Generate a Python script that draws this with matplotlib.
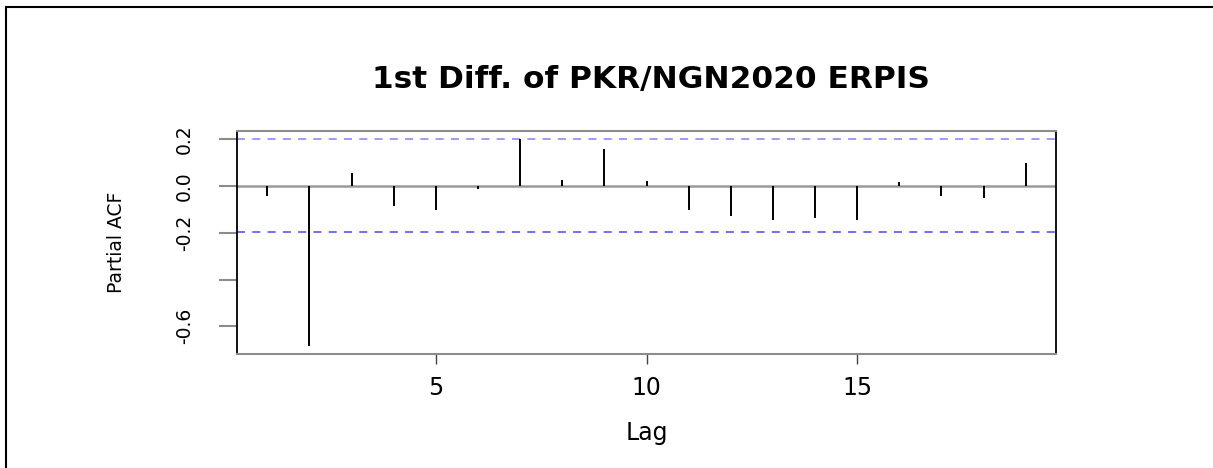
import numpy as np
import matplotlib
matplotlib.use("Agg")
import matplotlib.pyplot as plt
from matplotlib.lines import Line2D

# partial autocorrelations of the differenced series, lags 1..19
lags = list(range(1, 20))
pacf_vals = [-0.043, -0.684, 0.054, -0.085, -0.102, -0.014, 0.199, 0.026, 0.156, 0.022,
             -0.105, -0.128, -0.145, -0.137, -0.145, 0.017, -0.043, -0.051, 0.097]
conf_limit = 0.198

y_ticks = [0.2, 0.0, -0.2, -0.4, -0.6]
y_tick_labels = ["0.2", "0.0", "-0.2", "", "-0.6"]
x_ticks = [5, 10, 15]
x_tick_labels = ["5", "10", "15"]

plt.rcParams["font.family"] = "DejaVu Sans"
plt.rcParams["lines.scale_dashes"] = False

fig = plt.figure(figsize=(12.13, 4.68), dpi=100)
ax = fig.add_axes([237 / 1213, 114 / 468, 819 / 1213, 223 / 468])

# zero line and spikes
ax.axhline(0, color="#9a9a9a", lw=1.8, zorder=1)
ax.vlines(lags, 0, pacf_vals, color="black", lw=1.4, zorder=2)

# significance bounds
ax.axhline(conf_limit, color="#9494f6", lw=1.3, linestyle=(0, (5.8, 5.2)), zorder=1)
ax.axhline(-conf_limit, color="#6464f0", lw=1.3, linestyle=(0, (5.8, 5.2)), zorder=1)

ax.set_xlim(0.28, 19.72)
ax.set_ylim(-0.718, 0.234)

for side in ["left", "right"]:
    ax.spines[side].set_color("black")
    ax.spines[side].set_linewidth(1.3)
for side in ["top", "bottom"]:
    ax.spines[side].set_color("#8c8c8c")
    ax.spines[side].set_linewidth(1.5)

ax.set_xticks(x_ticks)
ax.set_xticklabels(x_tick_labels, fontsize=17)
ax.tick_params(axis="x", length=7, width=1.0, color="#444444", pad=8.5)

ax.set_yticks(y_ticks)
ax.set_yticklabels(y_tick_labels, fontsize=13.5, rotation=90, va="center")
ax.tick_params(axis="y", length=13, width=1.5, color="#8c8c8c", pad=18)

ax.set_xlabel("Lag", fontsize=17, va="baseline")
ax.xaxis.set_label_coords(0.5, -0.3857)
ax.set_ylabel("Partial ACF", fontsize=13.5, va="baseline")
ax.yaxis.set_label_coords(-0.1404, 0.5)

ax.set_title("1st Diff. of PKR/NGN2020 ERPIS", fontsize=22.5, fontweight="bold",
             pad=31, x=0.5055)

# frame around the figure (top and left edges)
fx = 6 / 1213
fy = 1 - 6.5 / 468
fig.add_artist(Line2D([fx, fx, 1.05], [-0.05, fy, fy], transform=fig.transFigure,
                      color="black", lw=1.5, solid_joinstyle="miter"))

fig.savefig("out.png", dpi=100)
